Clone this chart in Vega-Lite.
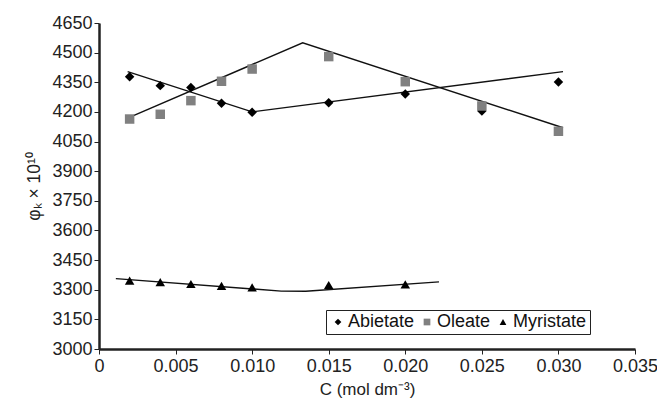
{
  "$schema": "https://vega.github.io/schema/vega-lite/v6.json",
  "autosize": "none",
  "width": 536,
  "height": 326,
  "padding": {"left": 99, "top": 23, "right": 22, "bottom": 52},
  "background": "white",
  "config": {
    "font": "Liberation Sans",
    "view": {"stroke": null}
  },
  "datasets": {
    "pts": [
      {"C": 0.002, "phi": 4378, "series": "Abietate"},
      {"C": 0.004, "phi": 4333, "series": "Abietate"},
      {"C": 0.006, "phi": 4323, "series": "Abietate"},
      {"C": 0.008, "phi": 4244, "series": "Abietate"},
      {"C": 0.010, "phi": 4198, "series": "Abietate"},
      {"C": 0.015, "phi": 4246, "series": "Abietate"},
      {"C": 0.020, "phi": 4291, "series": "Abietate"},
      {"C": 0.025, "phi": 4205, "series": "Abietate"},
      {"C": 0.030, "phi": 4351, "series": "Abietate"},
      {"C": 0.002, "phi": 4164, "series": "Oleate"},
      {"C": 0.004, "phi": 4188, "series": "Oleate"},
      {"C": 0.006, "phi": 4257, "series": "Oleate"},
      {"C": 0.008, "phi": 4355, "series": "Oleate"},
      {"C": 0.010, "phi": 4417, "series": "Oleate"},
      {"C": 0.015, "phi": 4480, "series": "Oleate"},
      {"C": 0.020, "phi": 4353, "series": "Oleate"},
      {"C": 0.025, "phi": 4230, "series": "Oleate"},
      {"C": 0.030, "phi": 4102, "series": "Oleate"},
      {"C": 0.002, "phi": 3346, "series": "Myristate"},
      {"C": 0.004, "phi": 3338, "series": "Myristate"},
      {"C": 0.006, "phi": 3329, "series": "Myristate"},
      {"C": 0.008, "phi": 3320, "series": "Myristate"},
      {"C": 0.010, "phi": 3312, "series": "Myristate"},
      {"C": 0.015, "phi": 3324, "series": "Myristate"},
      {"C": 0.020, "phi": 3327, "series": "Myristate"}
    ],
    "fit": [
      {"C": 0.00187, "phi": 4404, "seg": "A", "o": 1},
      {"C": 0.010, "phi": 4200, "seg": "A", "o": 2},
      {"C": 0.0303, "phi": 4404, "seg": "A", "o": 3},
      {"C": 0.00187, "phi": 4168, "seg": "O", "o": 1},
      {"C": 0.0133, "phi": 4550, "seg": "O", "o": 2},
      {"C": 0.0303, "phi": 4120, "seg": "O", "o": 3},
      {"C": 0.0011, "phi": 3356, "seg": "M", "o": 1},
      {"C": 0.0119, "phi": 3293, "seg": "M", "o": 2},
      {"C": 0.0135, "phi": 3292, "seg": "M", "o": 3},
      {"C": 0.0222, "phi": 3340, "seg": "M", "o": 4}
    ]
  },
  "encoding": {
    "x": {"field": "C", "type": "quantitative", "scale": {"domain": [0, 0.035], "nice": false, "zero": false},
      "axis": {"values": [0, 0.005, 0.01, 0.015, 0.02, 0.025, 0.03, 0.035], "labelExpr": "datum.value == 0 ? '0' : format(datum.value, '.3f')", "labelOverlap": false, "labelFlush": false, "labelFontSize": 18, "labelColor": "#222", "labelPadding": 3, "grid": false, "domainColor": "#222", "domainWidth": 2.5, "tickColor": "#222", "tickSize": 5, "titleFontSize": 17, "titleFontWeight": "normal", "titleColor": "#222", "title": "C (mol dm⁻³)", "titlePadding": 6}},
    "y": {"field": "phi", "type": "quantitative", "scale": {"domain": [3000, 4650], "nice": false, "zero": false},
      "axis": {"values": [3000, 3150, 3300, 3450, 3600, 3750, 3900, 4050, 4200, 4350, 4500, 4650], "format": "d", "labelOverlap": false, "labelFlush": false, "labelFontSize": 18, "labelColor": "#222", "labelPadding": 2, "grid": false, "domainColor": "#222", "domainWidth": 2.5, "tickColor": "#222", "tickSize": 5, "titleFontSize": 17.5, "titleFontWeight": "normal", "titleColor": "#222", "title": "φₖ × 10¹⁰", "titlePadding": 8}}
  },
  "layer": [
    {
      "data": {"name": "fit"},
      "mark": {"type": "line", "color": "#111", "strokeWidth": 1.4},
      "encoding": {
        "detail": {"field": "seg"},
        "order": {"field": "o"}
      }
    },
    {
      "data": {"name": "pts"},
      "mark": {"type": "point", "filled": true, "opacity": 1},
      "encoding": {
        "shape": {"field": "series", "type": "nominal", "scale": {"domain": ["Abietate", "Oleate", "Myristate"], "range": ["diamond", "square", "triangle-up"]}, "legend": null},
        "color": {"field": "series", "type": "nominal", "scale": {"domain": ["Abietate", "Oleate", "Myristate"], "range": ["#000000", "#808080", "#000000"]},
          "legend": {"orient": "none", "legendX": 227, "legendY": 287, "direction": "horizontal", "title": null, "strokeColor": "#222", "padding": 3, "labelFontSize": 18, "labelColor": "#111", "symbolSize": 45, "labelOffset": 1, "columnPadding": 3, "symbolOffset": 0}},
        "size": {"value": 90}
      }
    }
  ]
}
